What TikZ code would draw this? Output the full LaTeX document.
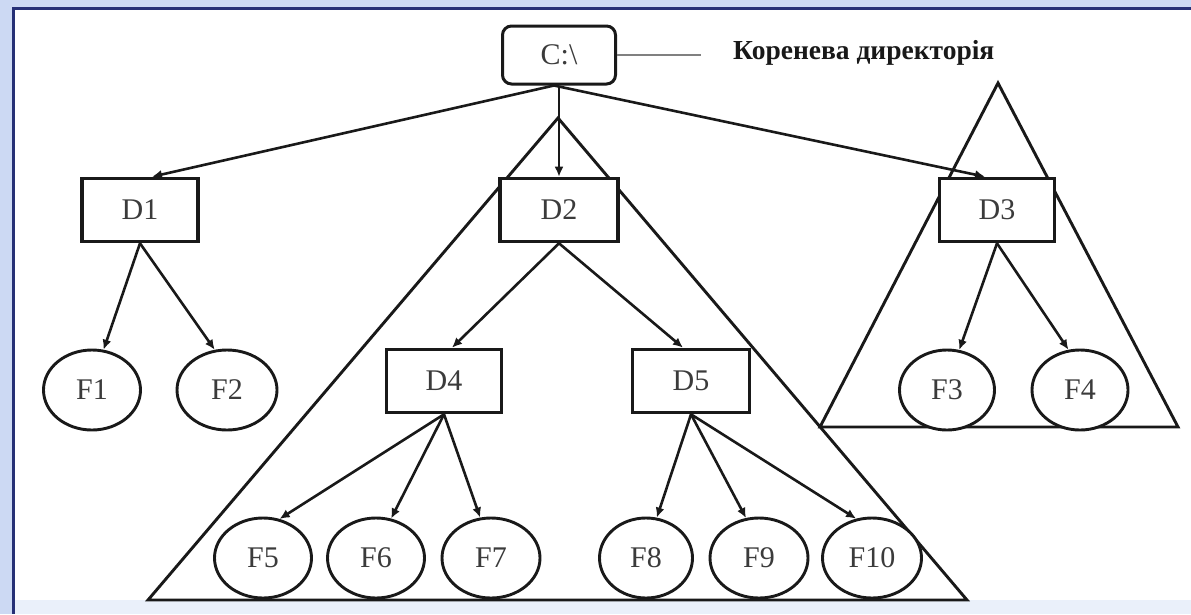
\documentclass[tikz,border=0pt]{standalone}
\usepackage{fontspec}
\setmainfont{Liberation Serif}
\usetikzlibrary{arrows.meta,calc,shapes.geometric}
\definecolor{framebg}{RGB}{204,217,243}
\definecolor{framenavy}{RGB}{38,48,118}
\definecolor{framelow}{RGB}{234,240,250}
\definecolor{ink}{RGB}{25,25,25}
\begin{document}
\begin{tikzpicture}[x=1pt, y=-1pt,
  dirbox/.style={draw=ink, rectangle, line width=3.6pt, fill=white, inner sep=0pt,
    minimum width=116pt, minimum height=63pt, font=\fontsize{30}{32}\selectfont, text=ink!85},
  rootbox/.style={dirbox, rounded corners=9pt, line width=3pt, minimum width=113pt, minimum height=58pt},
  filenode/.style={draw=ink, ellipse, line width=2.9pt, fill=white, inner sep=0pt,
    minimum width=97pt, minimum height=80pt, font=\fontsize{30}{32}\selectfont, text=ink!85},
  link/.style={draw=ink, line width=2.6pt, -{Latex[length=10pt,width=9pt]}},
  subtree/.style={draw=ink, line width=2.9pt, line join=miter},
  note/.style={font=\bfseries\fontsize{27.5}{29}\selectfont, text=ink, inner sep=0pt}]

% window frame
\fill[framebg] (0,0) rectangle (1191,614);
\fill[framelow] (15,600) rectangle (1191,614);
\fill[white] (15,10) rectangle (1191,600);
\fill[framenavy] (12,7) rectangle (1191,10);
\fill[framenavy] (12,7) rectangle (15,614);
\useasboundingbox (0,0) rectangle (1191,614);

% subtree outlines
\draw[subtree] (558,118) -- (148,600) -- (967,600) -- cycle;
\draw[subtree] (998,83) -- (820,427) -- (1178,427) -- cycle;

% directories
\node[rootbox] (root) at (559,55) {C:\textbackslash};
\node[note, anchor=west] (lbl) at (733,53) {Коренева директорія};
\node[dirbox] (D1) at (140,210) {D1};
\node[dirbox, minimum width=118pt] (D2) at (559,210) {D2};
\node[dirbox, minimum width=115pt] (D3) at (997,210) {D3};
\node[dirbox, minimum width=115pt] (D4) at (444,381) {D4};
\node[dirbox, minimum width=117pt] (D5) at (691,381) {D5};

% files
\node[filenode] (F1) at (92,390) {F1};
\node[filenode, minimum width=100pt] (F2) at (227,390) {F2};
\node[filenode, minimum width=95pt] (F3) at (947,390) {F3};
\node[filenode, minimum width=96pt] (F4) at (1080,390) {F4};
\node[filenode] (F5) at (263,558) {F5};
\node[filenode] (F6) at (376,558) {F6};
\node[filenode, minimum width=98pt] (F7) at (491,558) {F7};
\node[filenode, minimum width=93pt] (F8) at (646,558) {F8};
\node[filenode, minimum width=98pt] (F9) at (759,558) {F9};
\node[filenode, minimum width=99pt] (F10) at (872,558) {F10};

% label leader
\draw[gray, line width=2.6pt, shorten >=32pt] (root.east) -- (lbl.west |- root.east);

% links
\draw[link] ($(root.south)+(-5,0)$) -- ($(D1.north)+(12,0)$);
\draw[link] (root.south) -- (D2.north);
\draw[link] ($(root.south)+(-5,0)$) -- ($(D3.north)+(-12,0)$);
\draw[link] (D1.south) -- (F1.74);
\draw[link] (D1.south) -- (F2.107);
\draw[link] (D2.south) -- ($(D4.north)+(8,0)$);
\draw[link] (D2.south) -- ($(D5.north)+(-8,0)$);
\draw[link] (D3.south) -- (F3.73);
\draw[link] (D3.south) -- (F4.106);
\draw[link] (D4.south) -- (F5.67);
\draw[link] (D4.south) -- (F6.69);
\draw[link] (D4.south) -- (F7.105);
\draw[link] (D5.south) -- (F8.75);
\draw[link] (D5.south) -- (F9.108);
\draw[link] (D5.south) -- (F10.112);
\end{tikzpicture}
\end{document}
